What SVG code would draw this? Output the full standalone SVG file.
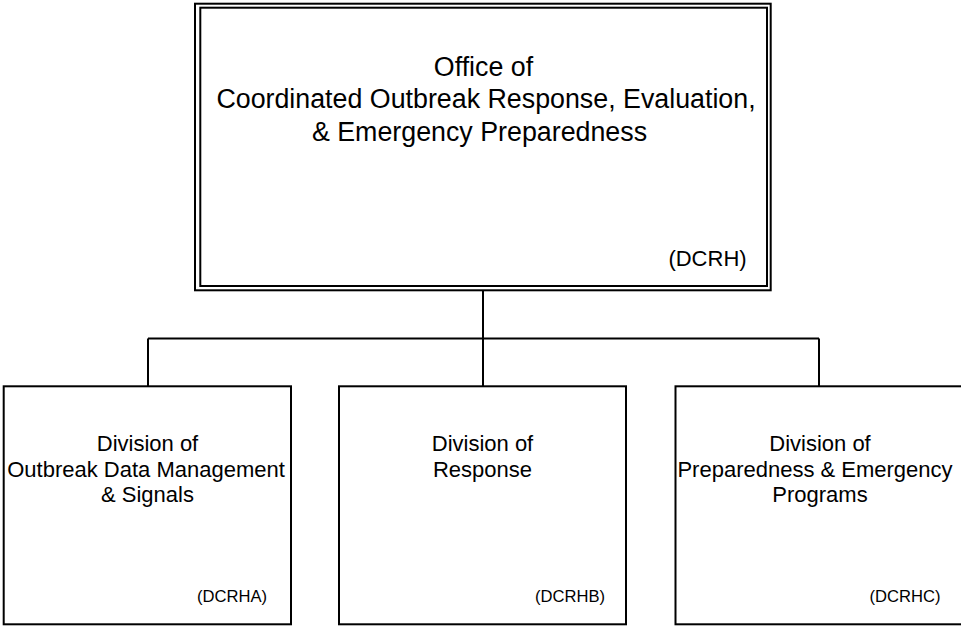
<svg xmlns="http://www.w3.org/2000/svg" width="961" height="626" viewBox="0 0 961 626">
<style>
.box{fill:#fff;stroke:#000;stroke-width:2}
.ln{fill:none;stroke:#000;stroke-width:2}
.t{font-family:"Liberation Sans",Arial,sans-serif;fill:#000;text-anchor:middle}
.big{font-size:26.8px}
.mid{font-size:22px}
.code{font-size:16.6px}
</style>
<rect x="0" y="0" width="961" height="626" fill="#fff"/>
<g id="connectors">
<path class="ln" d="M483 290 V338.5 M148 338.5 H819 M148 338.5 V386 M483 338.5 V386 M819 338.5 V386"/>
</g>
<g id="DCRH">
<rect class="box" x="195" y="3.7" width="575.7" height="286.6"/>
<rect class="box" x="200.3" y="7.7" width="566.7" height="278.3"/>
<text class="t big" x="483.5" y="75.5">Office of</text>
<text class="t big" x="486" y="108.3">Coordinated Outbreak Response, Evaluation,</text>
<text class="t big" x="479.5" y="140.8">&amp; Emergency Preparedness</text>
<text class="t mid" x="707.5" y="266">(DCRH)</text>
</g>
<g id="DCRHA">
<rect class="box" x="3.7" y="386.3" width="287.3" height="238"/>
<text class="t mid" x="147.5" y="451">Division of</text>
<text class="t mid" x="146" y="476.5">Outbreak Data Management</text>
<text class="t mid" x="147.5" y="502">&amp; Signals</text>
<text class="t code" x="232" y="602">(DCRHA)</text>
</g>
<g id="DCRHB">
<rect class="box" x="339" y="386.3" width="287" height="238"/>
<text class="t mid" x="482.5" y="451">Division of</text>
<text class="t mid" x="482.5" y="476.5">Response</text>
<text class="t code" x="570" y="602">(DCRHB)</text>
</g>
<g id="DCRHC">
<rect class="box" x="675.5" y="386.3" width="330" height="238"/>
<text class="t mid" x="820" y="451">Division of</text>
<text class="t mid" x="815" y="476.5">Preparedness &amp; Emergency</text>
<text class="t mid" x="820" y="502">Programs</text>
<text class="t code" x="905" y="602">(DCRHC)</text>
</g>
</svg>
